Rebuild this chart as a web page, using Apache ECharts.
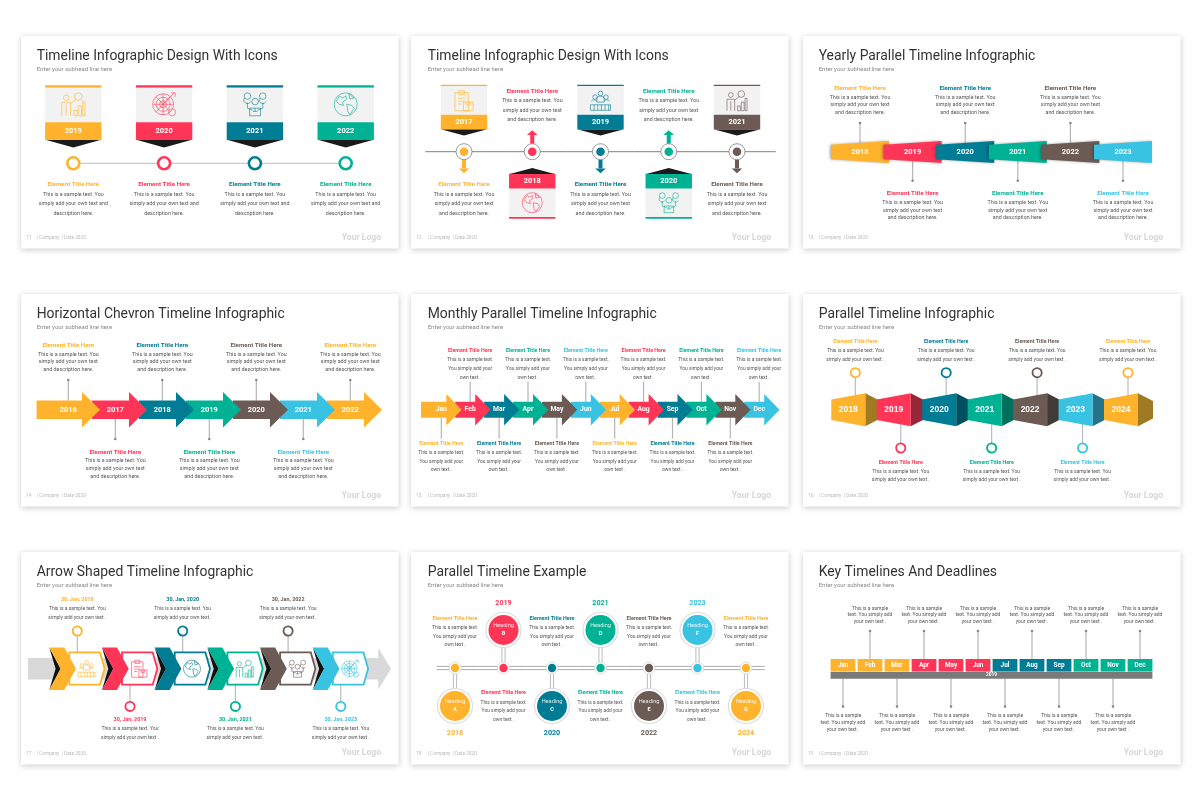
<!DOCTYPE html>
<html>
<head>
<meta charset="utf-8">
<title>Timeline infographics</title>
<script src="https://cdn.jsdelivr.net/npm/echarts@6/dist/echarts.min.js"></script>
<style>
  html, body { margin: 0; padding: 0; background: #fff; }
  #chart { width: 1200px; height: 800px; }
</style>
</head>
<body>
<div id="chart"></div>
<script>
// Paleta
const YELLOW = '#FFB32C', RED = '#FF3558', TEAL = '#007C94', GREEN = '#00B294', BROWN = '#6B5B54', CYAN = '#38C3E2';
const palette = [YELLOW, RED, TEAL, GREEN, BROWN, CYAN];
const sideColors = ['#A07A22', '#952738', '#00505F', '#00705E', '#423A36', '#23748A'];
const FONT = 'Roboto';

// Textos
const slideTitles = ['Timeline Infographic Design With Icons', 'Timeline Infographic Design With Icons', 'Yearly Parallel Timeline Infographic',
  'Horizontal Chevron Timeline Infographic', 'Monthly Parallel Timeline Infographic', 'Parallel Timeline Infographic',
  'Arrow Shaped Timeline Infographic', 'Parallel Timeline Example', 'Key Timelines And Deadlines'];
const pageNumbers = ['11', '12', '13', '14', '15', '16', '17', '18', '19'];
const subhead = 'Enter your subhead line here';
const footerText = '| Company  | Date 2020';
const logoText = 'Your Logo';
const elementTitle = 'Element Title Here';
const linesDesign = ['This is a sample text. You', 'simply add your own text and', 'description here.'];
const linesWide = ['This is a sample text. You', 'simply add your own text', 'and description here.'];
const linesNarrow = ['This is a sample text.', 'You simply add your', 'own text .'];
const linesTwo = ['This is a sample text. You', 'simply add your own text .'];
const linesDeadline = ['This is a sample', 'text. You simply add', 'your own text .'];

// Categorias
const yearsDesign = ['2019', '2020', '2021', '2022'];
const yearsFlags = ['2017', '2018', '2019', '2020', '2021'];
const yearsRibbon = ['2018', '2019', '2020', '2021', '2022', '2023'];
const yearsChevron = ['2016', '2017', '2018', '2019', '2020', '2021', '2022'];
const months = ['Jan', 'Feb', 'Mar', 'Apr', 'May', 'Jun', 'Jul', 'Aug', 'Sep', 'Oct', 'Nov', 'Dec'];
const yearsBlocks = ['2018', '2019', '2020', '2021', '2022', '2023', '2024'];
const datesArrow = ['30, Jan, 2018', '30, Jan, 2019', '30, Jan, 2020', '30, Jan, 2021', '30, Jan, 2022', '30, Jan, 2023'];
const yearsHeading = ['2018', '2019', '2020', '2021', '2022', '2023', '2024'];
const headingLetters = ['A', 'B', 'C', 'D', 'E', 'F', 'G'];
const deadlineYear = '2019';

// Iconos de linea
const icons = {
  growth: 'M6 3a2.5 2.5 0 1 0 .01 0zM2 22V10h8v12M6 12v10M10 11l5-4M17 1a3.5 3.5 0 1 0 .01 0zM13 22v-5h3v5zM17 22v-9h3v9zM21 22v-13h2v13z',
  target: 'M11 2a10.5 10.5 0 1 0 .01 0zM11 5.500a7 7 0 1 0 .01 0zM11 9a3.500 3.500 0 1 0 .01 0zM1 12.500h20M11 2v21M4 5l14 15M18 5L4 20M11 12.500L22 1M19 1h4v4M20 17a3.500 3.500 0 1 0 .01 0z',
  team: 'M12 7a3 3 0 1 0 .01 0zM5 2a3 3 0 1 0 .01 0zM19 2a3 3 0 1 0 .01 0zM2 7a3 3 0 0 0 6 3M16 7a3 3 0 0 0 6 3M5 11v5l5 2M19 11v5l-5 2M7 23v-7h10v7zM10 19h4M12 16v3',
  globe: 'M12 1a11 11 0 1 0 .01 0zM6 4l3 2 3-2 1 3-4 3 1 3-4-1-3-3zM13 12l5 1 2 3-4 6-2-3zM15 2l5 4-4 1z',
  clipboard: 'M3 3h14v19H3zM7 1h6v4H7zM6 9h8M6 12h8M6 15h4M12 13h10v9H12zM15 13v3h4v-3',
  crowd: 'M12 1a2.500 2.500 0 1 0 .01 0zM6 5a2.500 2.500 0 1 0 .01 0zM18 5a2.500 2.500 0 1 0 .01 0zM8 8c1-2 7-2 8 0v5H8zM2 12c1-2 5-2 6 0M16 12c1-2 5-2 6 0M1 16h22v6H1zM5 16v6M9 16v6M13 16v6M17 16v6M21 16v6'
};
const iconsDesign = ['growth', 'target', 'team', 'globe'];
const iconsFlags = ['clipboard', 'globe', 'crowd', 'team', 'growth'];
const iconsArrow = ['crowd', 'clipboard', 'globe', 'growth', 'team', 'target'];

// Helpers de formas
function poly(points, fill, z2, extra) {
  return { type: 'polygon', shape: { points: points }, style: Object.assign({ fill: fill }, extra || {}), z2: z2 || 10 };
}
function box(x, y, w, h, fill, z2) {
  return { type: 'rect', shape: { x: x, y: y, width: w, height: h }, style: { fill: fill }, z2: z2 || 10 };
}
function seg(x1, y1, x2, y2, stroke, width, z2) {
  return { type: 'line', shape: { x1: x1, y1: y1, x2: x2, y2: y2 }, style: { stroke: stroke, lineWidth: width || 1 }, z2: z2 || 5 };
}
function dot(x, y, r, fill, stroke, width, z2) {
  return { type: 'circle', shape: { cx: x, cy: y, r: r }, style: { fill: fill, stroke: stroke || null, lineWidth: width || 0 }, z2: z2 || 10 };
}
function txt(text, x, y, size, fill, bold, z2, family) {
  return {
    type: 'text', x: x, y: y, z2: z2 || 50,
    style: { text: text, fill: fill, font: (bold ? 'bold ' : '') + size + 'px ' + (family || FONT), align: 'center', verticalAlign: 'middle' }
  };
}
function icon(name, x, y, size, color, z2) {
  return {
    type: 'path', z2: z2 || 30,
    shape: { pathData: icons[name], layout: 'center', x: x - size / 2, y: y - size / 2, width: size, height: size },
    style: { fill: 'none', stroke: color, lineWidth: 0.6 }
  };
}
// Titulo de color y lineas de texto
function block(title, color, lines, x, titleY, lineYs, titleSize, lineSize) {
  const out = title ? [txt(title, x, titleY, titleSize, color, true)] : [];
  lines.forEach((l, k) => out.push(txt(l, x, lineYs[k], lineSize, '#555', false)));
  return out;
}
// Varilla con punto final
function stem(y1, y2) {
  return [seg(0, y1, 0, y2, '#b5b5b5', 1.2, 3), dot(0, y2, 1.3, '#8a8a8a', null, 0, 4)];
}

const grids = [], xAxes = [], yAxes = [], series = [];

// Cada timeline: un grid de categorias sin ejes visibles, 1 unidad en y = 1 px
function timeline(cats, x0, step, cy, draw) {
  const idx = grids.length;
  grids.push({ show: false, left: x0 - step / 2, width: step * cats.length, top: cy - 100, height: 200 });
  xAxes.push({ type: 'category', gridIndex: idx, data: cats, show: false });
  yAxes.push({ type: 'value', gridIndex: idx, min: -100, max: 100, show: false });
  series.push({
    type: 'custom',
    xAxisIndex: idx,
    yAxisIndex: idx,
    silent: true,
    encode: { x: 0, y: 1 },
    data: cats.map(c => [c, 0]),
    renderItem: function (params, api) {
      const pos = api.coord([api.value(0), 0]);
      const i = params.dataIndex;
      return { type: 'group', x: pos[0], y: pos[1], children: draw(i, cats[i], palette[i % 6], cats.length, step) };
    }
  });
}

// --- Timeline Infographic Design With Icons (banderas arriba) ---
timeline(yearsDesign, 73.3, 90.8, 163.3, function (i, label, c, n, step) {
  const items = [
    box(-28.2, -78, 56.4, 2.4, c),
    box(-28.2, -75.6, 56.4, 34.6, '#f2f2f2'),
    box(-28.2, -41, 56.4, 17.7, c),
    poly([[-27, -23.3], [27, -23.3], [0, -15.7]], '#1a1a1a'),
    icon(iconsDesign[i], 0, -59, 23, c),
    txt(label, 0, -32, 7.5, '#fff', true),
    dot(0, 0, 6, '#fff', c, 2.6, 12)
  ];
  if (i < n - 1) items.push(seg(0, 0, step, 0, '#bdbdbd', 1, 2));
  return items.concat(block(elementTitle, c, linesDesign, 0, 21, [31.3, 40.7, 50.3], 6.2, 5.35));
});

// --- Timeline Infographic Design With Icons (alternado) ---
function flag(i, label, c, up) {
  const s = up ? -1 : 1;
  const rows = [
    box(-23.2, s > 0 ? 65.3 : -67, 46.4, 1.7, c),
    box(-23.2, s > 0 ? 36.7 : -65.7, 46.4, 28.7, '#f2f2f2'),
    box(-23.2, s > 0 ? 22 : -37, 46.4, 14.7, c),
    poly([[-22.5, s * 22.2], [22.5, s * 22.2], [0, s * 16.2]], '#1a1a1a'),
    icon(iconsFlags[i], 0, s * 51, 20, c),
    txt(label, 0, s * 29.7, 7.5, '#fff', true)
  ];
  return rows;
}
timeline(yearsFlags, 464, 68.25, 151.7, function (i, label, c, n, step) {
  const up = i % 2 === 0;
  const s = up ? 1 : -1;
  const left = i === 0 ? -38.7 : -step / 2;
  const right = i === n - 1 ? 38.7 : step / 2;
  let items = [
    seg(left, 0, right, 0, '#808080', 1, 2),
    dot(0, 0, 8, '#fff', '#808080', 0.8, 6),
    dot(0, 0, 4.3, c, null, 0, 7),
    box(-2, s > 0 ? 8 : -16.7, 4, 8.7, c, 4),
    poly([[-5.3, s * 16.7], [5.3, s * 16.7], [0, s * 21.5]], c, 4)
  ].concat(flag(i, label, c, up));
  if (up) items = items.concat(block(elementTitle, c, linesWide, 0, 33, [43, 52.3, 62], 6.2, 5.35));
  else items = items.concat(block(elementTitle, c, linesWide, 0, -60.3, [-50.7, -41, -31.7], 6.2, 5.35));
  return items;
});

// --- Yearly Parallel Timeline Infographic ---
timeline(yearsRibbon, 860, 52.6, 152, function (i, label, c) {
  const up = i % 2 === 0;
  let items = [
    poly([[-29, -7.3], [29, -11], [29, 11], [-29, 7.3]], c, 10 + i, { shadowBlur: 3, shadowColor: 'rgba(0,0,0,0.35)', shadowOffsetX: -1 }),
    txt(label, 0, 0, 7.5, '#fff', true)
  ];
  if (up) items = items.concat(stem(-9, -29), block(elementTitle, c, linesWide, 0, -63.3, [-54.7, -47, -39.3], 6.2, 5.35));
  else items = items.concat(stem(9, 28.7), block(elementTitle, c, linesWide, 0, 41.7, [50.7, 58.3, 66], 6.2, 5.35));
  return items;
});

// --- Horizontal Chevron Timeline Infographic ---
timeline(yearsChevron, 68.3, 47, 409.7, function (i, label, c, n) {
  const up = i % 2 === 0;
  const back = i === 0 ? -31.7 : -23.3;
  const z = 10 + n - i;
  let items = [
    poly([[back, -9.3], [13.7, -9.3], [13.7, -17.7], [31.7, 0], [13.7, 17.7], [13.7, 9.3], [back, 9.3]], c, z),
    txt(label, 0, 0, 7.5, '#fff', true)
  ];
  if (up) items = items.concat(stem(-9, -29.7), block(elementTitle, c, linesWide, 0, -64, [-55, -47.7, -40], 6.2, 5.35));
  else items = items.concat(stem(9, 29.3), block(elementTitle, c, linesWide, 0, 42.3, [51.3, 59, 66.7], 6.2, 5.35));
  return items;
});

// --- Monthly Parallel Timeline Infographic ---
timeline(months, 441.3, 28.9, 409.7, function (i, label, c, n) {
  const up = i % 2 === 1;
  const back = i === 0 ? -20.3 : -15;
  const z = 10 + n - i;
  let items = [
    poly([[back, -8], [5, -8], [5, -15.7], [20.3, 0], [5, 15.7], [5, 8], [back, 8]], c, z),
    txt(label, 0, 0, 6.8, '#fff', true)
  ];
  if (up) items = items.concat(seg(0, -8, 0, -28, '#b5b5b5', 1.2, 3), block(elementTitle, c, linesNarrow, 0, -58.7, [-49.7, -41, -32.3], 5.3, 4.9));
  else items = items.concat(seg(0, 8, 0, 29, '#b5b5b5', 1.2, 3), block(elementTitle, c, linesNarrow, 0, 34, [43, 51.7, 60.3], 5.3, 4.9));
  return items;
});

// --- Parallel Timeline Infographic ---
timeline(yearsBlocks, 855.3, 45.45, 409.7, function (i, label, c) {
  const up = i % 2 === 0;
  const z = 10 + i;
  let items = [
    poly([[10, -16.5], [25, -8.7], [25, 8.7], [10, 16.5]], sideColors[i % 6], z),
    poly([[-24, -10.3], [10, -16.5], [10, 16.5], [-24, 10.3]], c, z + 0.5),
    txt(label, -7, 0, 8.5, '#fff', true, 50, 'Liberation Sans')
  ];
  if (up) {
    items.push(seg(0, -37, 0, -12, '#bbb', 1.2, 3), dot(0, -37, 4.6, '#fff', c, 1.8, 8));
    items = items.concat(block(elementTitle, c, linesTwo, 0, -67.7, [-58.7, -50], 5.3, 5));
  } else {
    items.push(seg(0, 12, 0, 38.3, '#bbb', 1.2, 3), dot(0, 38.3, 4.6, '#fff', c, 1.8, 8));
    items = items.concat(block(elementTitle, c, linesTwo, 0, 52.7, [61.7, 70.3], 5.3, 5));
  }
  return items;
});

// --- Arrow Shaped Timeline Infographic ---
timeline(datesArrow, 77.3, 52.7, 668.7, function (i, label, c) {
  const up = i % 2 === 0;
  let items = [
    poly([[-8, -16.3], [22.7, -16.3], [27.3, 0], [22.7, 16], [-8, 16]], '#fff', 5, { stroke: c, lineWidth: 1.8 }),
    poly([[-28, -21.3], [-16.7, 0], [-28, 21.3], [-21.7, 0]], '#111', 6),
    poly([[-28, -21.3], [-13, -21.3], [-1.3, 0], [-13, 21.3], [-28, 21.3], [-16.7, 0]], c, 7),
    icon(iconsArrow[i], 9.3, 0, 17, c)
  ];
  if (i === 0) {
    items.push(poly([[-49.3, -10.7], [301, -10.7], [301, -20.8], [313.7, 0], [301, 20.8], [301, 10.7], [-49.3, 10.7]], '#d9d9d9', 1));
  }
  if (up) {
    items.push(seg(0, -16.3, 0, -37.7, '#bbb', 1.2, 3), dot(0, -37.7, 4.6, '#fff', c, 1.8, 8));
    items = items.concat(block(label, c, linesTwo, 0, -68.7, [-60, -51.3], 5.4, 5));
  } else {
    items.push(seg(0, 16, 0, 37.7, '#bbb', 1.2, 3), dot(0, 37.7, 4.6, '#fff', c, 1.8, 8));
    items = items.concat(block(label, c, linesTwo, 0, 51.3, [60, 68.7], 5.4, 5));
  }
  return items;
});

// --- Parallel Timeline Example ---
timeline(yearsHeading, 455, 48.5, 668, function (i, label, c, n, step) {
  const up = i % 2 === 1;
  const s = up ? -1 : 1;
  const left = i === 0 ? -18.3 : -step / 2;
  const right = i === n - 1 ? 18.7 : step / 2;
  let items = [
    seg(left, -1.6, right, -1.6, '#aaa', 1, 2),
    seg(left, 1.6, right, 1.6, '#aaa', 1, 2),
    seg(-1.6, 0, -1.6, s * 30, '#bbb', 1, 2),
    seg(1.6, 0, 1.6, s * 30, '#bbb', 1, 2),
    dot(0, 0, 6, '#fff', '#ddd', 1, 6),
    dot(0, 0, 4.2, c, null, 0, 7),
    dot(0, s * 38, 17.5, '#fff', '#ddd', 1.2, 6),
    dot(0, s * 38, 15, c, null, 0, 7),
    txt('Heading', 0, s * 38 - 4.7, 5.6, 'rgba(255,255,255,0.85)', false),
    txt(headingLetters[i], 0, s * 38 + 3.7, 5.6, '#fff', true),
    txt(label, 0, s * 65, 7.2, c, true)
  ];
  if (up) items = items.concat(block(elementTitle, c, linesNarrow, 0, 25, [34.3, 43, 51.7], 5.4, 4.9));
  else items = items.concat(block(elementTitle, c, linesNarrow, 0, -49.7, [-40.3, -31.7, -23], 5.4, 4.9));
  return items;
});

// --- Key Timelines And Deadlines ---
timeline(months, 843, 27, 665.3, function (i, label, _c, n, step) {
  const up = i % 2 === 1;
  const c = palette[Math.floor(i / 3)];
  const cell = [
    box(-12.4, -6.3, 24.8, 12.6, c),
    txt(label, 0, 0, 6.4, '#fff', true)
  ];
  if (i === 0) {
    cell.push(box(-12.4, 6.6, step * (n - 1) + 24.8, 6.8, '#7a7a7a', 8));
    cell.push(txt(deadlineYear, step * (n - 1) / 2, 10, 4.8, '#fff', true));
  }
  if (up) return cell.concat(stem(-6.3, -34.3), block('', c, linesDeadline, 0, 0, [-57, -50.3, -43.3], 5, 5));
  return cell.concat(stem(13, 41.3), block('', c, linesDeadline, 0, 0, [50.7, 57.3, 64.3], 5, 5));
});

// --- Tarjetas de cada slide ---
const cardX = [21, 411, 803], cardY = [36, 294, 552];
const chrome = [];
slideTitles.forEach(function (title, k) {
  const x = cardX[k % 3], y = cardY[Math.floor(k / 3)];
  const tx = x + (k % 3 === 1 ? 16.7 : 15.7);
  const dy = k >= 6 ? -0.7 : 0;
  chrome.push({ type: 'rect', z: -1, silent: true, shape: { x: x, y: y, width: 377.5, height: 212.5 },
    style: { fill: '#fff', shadowBlur: 6, shadowColor: 'rgba(0,0,0,0.2)', shadowOffsetY: 1 } });
  chrome.push({ type: 'text', x: tx, y: y + 21 + dy, silent: true,
    style: { text: title, font: '13.9px ' + FONT, fill: '#333', verticalAlign: 'middle' } });
  chrome.push({ type: 'text', x: tx, y: y + 33.7 + dy, silent: true,
    style: { text: subhead, font: '6px ' + FONT, fill: '#888', verticalAlign: 'middle' } });
  chrome.push({ type: 'text', x: x + 5, y: y + 202, silent: true,
    style: { text: pageNumbers[k], font: '4.8px ' + FONT, fill: '#bbb', verticalAlign: 'middle' } });
  chrome.push({ type: 'text', x: tx, y: y + 202, silent: true,
    style: { text: footerText, font: '4.8px ' + FONT, fill: '#bbb', verticalAlign: 'middle' } });
  chrome.push({ type: 'text', x: x + 360, y: y + 202 + dy, silent: true,
    style: { text: logoText, font: 'bold 8.6px ' + FONT, fill: '#d6d6d6', align: 'right', verticalAlign: 'middle' } });
});

const chart = echarts.init(document.getElementById('chart'), null, { renderer: 'canvas' });
chart.setOption({
  animation: false,
  backgroundColor: '#fff',
  graphic: { elements: chrome },
  grid: grids,
  xAxis: xAxes,
  yAxis: yAxes,
  series: series
});
</script>
</body>
</html>
